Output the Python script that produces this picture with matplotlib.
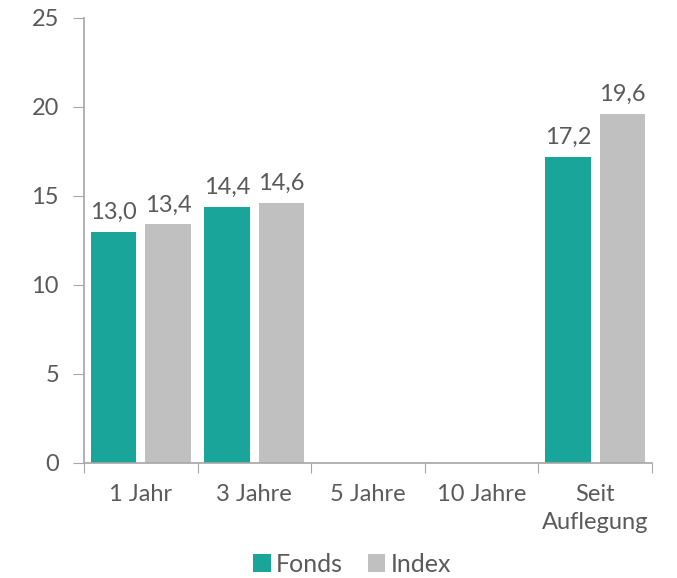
import numpy as np
import matplotlib.pyplot as plt

kategorien = ['1 Jahr', '3 Jahre', '5 Jahre', '10 Jahre', 'Seit\nAuflegung']
fonds = [13.0, 14.4, np.nan, np.nan, 17.2]
index = [13.4, 14.6, np.nan, np.nan, 19.6]

plt.rcParams['font.family'] = ['Lato', 'DejaVu Sans']
plt.rcParams['font.weight'] = 'normal'
txt = '#5a5a5a'
achse = '#a6a6a6'

fig = plt.figure(figsize=(6.77, 5.78), dpi=100)
ax = fig.add_axes([0.124, 0.199, 0.839, 0.77])

x = np.arange(len(kategorien))
b = 0.4
d = 0.24
b1 = ax.bar(x - d, fonds, b, color='#1aa59b', label='Fonds')
b2 = ax.bar(x + d, index, b, color='#c0c0c0', label='Index')

for bars, werte in ((b1, fonds), (b2, index)):
    for r, v in zip(bars, werte):
        if np.isnan(v):
            continue
        ax.text(r.get_x() + r.get_width() / 2, v + 0.5, f'{v:.1f}'.replace('.', ','),
                ha='center', va='bottom', fontsize=17, color=txt)

ax.set_xlim(-0.5, len(kategorien) - 0.5)
ax.set_ylim(0, 25)
ax.set_yticks(range(0, 26, 5))
ax.tick_params(axis='y', length=8, color=achse, labelsize=17, labelcolor=txt, pad=10)

# Trennstriche zwischen den Kategorien
ax.set_xticks(np.arange(-0.5, len(kategorien), 1))
ax.set_xticklabels([])
ax.set_xticks(x, minor=True)
ax.set_xticklabels(kategorien, minor=True, linespacing=1.45)
ax.tick_params(axis='x', which='major', length=7, color=achse)
ax.tick_params(axis='x', which='minor', length=0, labelsize=17, labelcolor=txt, pad=15)

for s in ['top', 'right']:
    ax.spines[s].set_visible(False)
for s in ['left', 'bottom']:
    ax.spines[s].set_color(achse)
    ax.spines[s].set_linewidth(1.2)

fig.legend(handles=[b1, b2], loc='lower center', bbox_to_anchor=(0.52, -0.035), ncol=2,
           frameon=False, fontsize=18, handlelength=0.7, handleheight=0.7,
           handletextpad=0.2, columnspacing=1.0, labelcolor=txt)

fig.savefig('out.png', dpi=100)
